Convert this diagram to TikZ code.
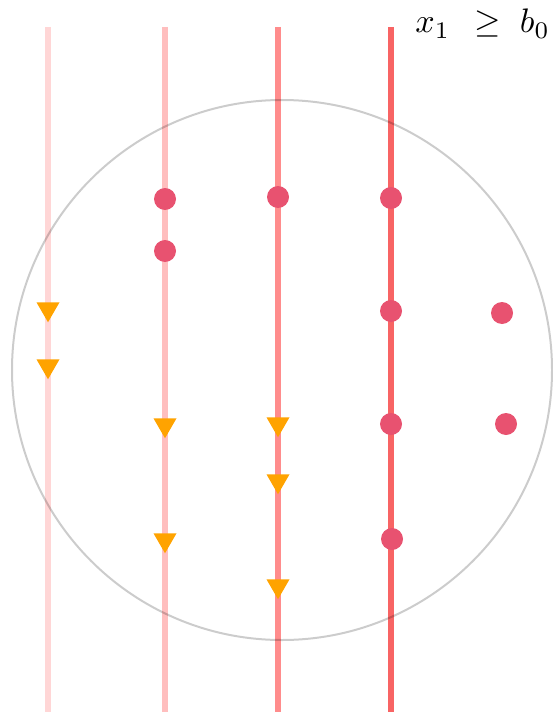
\documentclass[tikz,border=0pt]{standalone}
\usepackage{graphicx}
\usetikzlibrary{shapes.geometric}
\definecolor{dotc}{RGB}{232,82,112}
\definecolor{tric}{RGB}{255,163,0}
\definecolor{l1}{RGB}{255,214,214}
\definecolor{l2}{RGB}{255,190,190}
\definecolor{l3}{RGB}{255,140,140}
\definecolor{l4}{RGB}{248,100,100}
\tikzset{
  dotm/.style={circle,fill=dotc,inner sep=0pt,minimum size=22pt},
  trim/.style={isosceles triangle,isosceles triangle apex angle=60,shape border rotate=-90,fill=tric,inner sep=0pt,minimum height=19pt,minimum width=23pt},
  vline/.style={line width=6pt}
}
\begin{document}
\begin{tikzpicture}[x=1pt,y=-1pt]
\useasboundingbox (0,0) rectangle (553,714);
\coordinate (t1) at (48,27); \coordinate (b1) at (48,712);
\coordinate (t2) at (165,27); \coordinate (b2) at (165,712);
\coordinate (t3) at (278,27); \coordinate (b3) at (278,712);
\coordinate (t4) at (391,27); \coordinate (b4) at (391,712);
\draw[vline,l1] (t1) -- (b1);
\draw[vline,l2] (t2) -- (b2);
\draw[vline,l3] (t3) -- (b3);
\draw[vline,l4] (t4) -- (b4);
\node[draw=black,draw opacity=0.2,line width=2pt,circle,minimum size=540pt,inner sep=0pt] (ball) at (282,370) {};
\node[dotm] (d1) at (165,199) {};
\node[dotm] (d2) at (278,197) {};
\node[dotm] (d3) at (391,198) {};
\node[dotm] (d4) at (165,251) {};
\node[dotm] (d5) at (391,311) {};
\node[dotm] (d6) at (502,313) {};
\node[dotm] (d7) at (391,424) {};
\node[dotm] (d8) at (506,424) {};
\node[dotm] (d9) at (392,539) {};
\node[trim] (a1) at (48,309) {};
\node[trim] (a2) at (48,366) {};
\node[trim] (a3) at (165,425) {};
\node[trim] (a4) at (278,424) {};
\node[trim] (a5) at (278,481) {};
\node[trim] (a6) at (165,540) {};
\node[trim] (a7) at (278,586) {};
\node[anchor=base east,inner sep=0pt] (lab) at (550,33) {\scalebox{3.4}{$x_{1}\mskip8mu\geq\mskip5mu b_{0}$}};
\end{tikzpicture}
\end{document}
